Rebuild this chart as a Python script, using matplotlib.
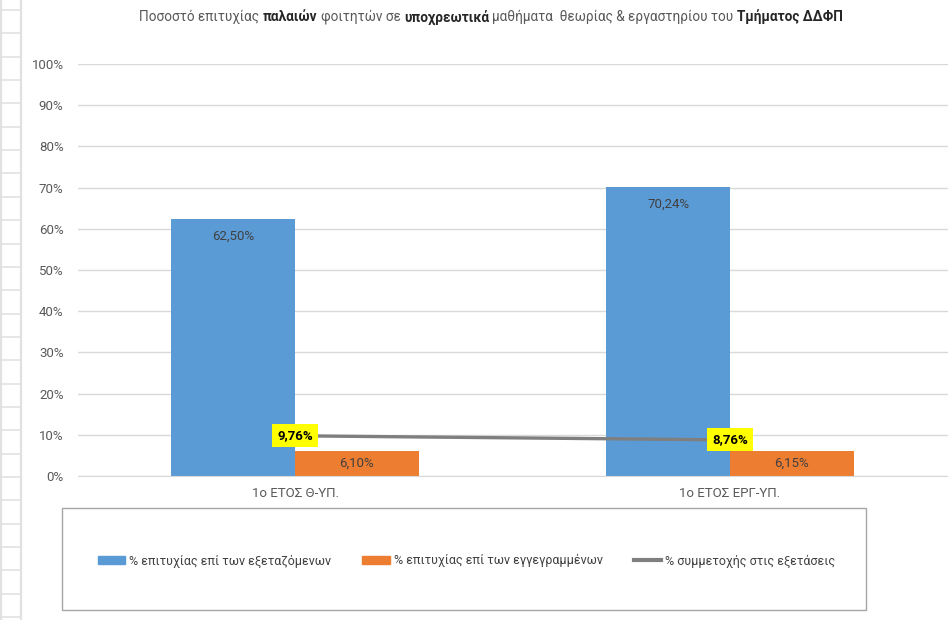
import numpy as np
import matplotlib
matplotlib.use('Agg')
import matplotlib.pyplot as plt
from matplotlib.lines import Line2D
from matplotlib.patches import Rectangle, Patch

plt.rcParams['font.family'] = ['Roboto', 'DejaVu Sans']

# δεδομένα
categories = ['1ο ΕΤΟΣ Θ-ΥΠ.', '1ο ΕΤΟΣ ΕΡΓ-ΥΠ.']
pass_examined = [62.50, 70.24]
pass_registered = [6.10, 6.15]
participation = [9.76, 8.76]
series_names = ['% επιτυχίας επί των εξεταζόμενων',
                '% επιτυχίας επί των εγγεγραμμένων',
                '% συμμετοχής στις εξετάσεις']
yticks = list(range(0, 101, 10))
title_parts = [('Ποσοστό επιτυχίας', False), ('παλαιών', True),
               ('φοιτητών σε', False), ('υποχρεωτικά', True),
               ('μαθήματα  θεωρίας & εργαστηρίου του', False),
               ('Τμήματος ΔΔΦΠ', True)]

BLUE = '#5B9BD5'
ORANGE = '#ED7D31'
GRAY = '#7F7F7F'
TXT = '#595959'
LAB = '#404040'


def fmt(v):
    return f'{v:.2f}%'.replace('.', ',')


W, H = 948, 620
fig = plt.figure(figsize=(W / 100, H / 100), dpi=100)

# γραμμές του φύλλου εργασίας στο φόντο
for k in range(27):
    yy = 1 - (10 + 23.35 * k) / H
    fig.add_artist(Line2D([0, 21 / W], [yy, yy], color='#E1E1E1', lw=1.2))
fig.add_artist(Line2D([20.5 / W] * 2, [0, 1], color='#E1E1E1', lw=1.6))
fig.add_artist(Line2D([0.8 / W] * 2, [0, 1], color='#E1E1E1', lw=1.6))

ax = fig.add_axes([77.5 / W, 1 - 476 / H, 870 / W, 412 / H])
x = np.arange(len(categories))
w = 0.284

ax.bar(x - w / 2, pass_examined, w, color=BLUE, zorder=2)
ax.bar(x + w / 2, pass_registered, w, color=ORANGE, zorder=2)
ax.plot(x, participation, color=GRAY, lw=2.4, zorder=3)

for xi, v in zip(x, pass_examined):
    ax.annotate(fmt(v), (xi - w / 2, v), xytext=(0, -12.5), textcoords='offset points',
                ha='center', va='center', fontsize=9.5, color=LAB, zorder=4)
for xi, v in zip(x, pass_registered):
    ax.text(xi + w / 2, v / 2, fmt(v), ha='center', va='center', fontsize=9.5,
            color=LAB, zorder=4)
for xi, v in zip(x, participation):
    ax.text(xi, v, fmt(v), ha='center', va='center', fontsize=9.5, fontweight='bold',
            color='black', zorder=5,
            bbox=dict(boxstyle='square,pad=0.38', fc='#FFFF00', ec='none'))

ax.set_xlim(-0.5, 1.5)
ax.set_ylim(0, 100)
ax.set_yticks(yticks, [f'{t}%' for t in yticks])
ax.set_xticks(x, categories)
ax.tick_params(axis='y', length=0, pad=10, labelsize=9.5, labelcolor=TXT)
ax.tick_params(axis='x', length=0, pad=8, labelsize=9.5, labelcolor=TXT)
ax.grid(axis='y', color='#D9D9D9', lw=1, zorder=0)
for s in ['top', 'right', 'left']:
    ax.spines[s].set_visible(False)
ax.spines['bottom'].set_color('#D9D9D9')

# υπόμνημα
handles = [Patch(color=BLUE), Patch(color=ORANGE), Line2D([], [], color=GRAY, lw=3)]
fig.legend(handles, series_names, loc='center', bbox_to_anchor=(466.5 / W, 1 - 561 / H),
           ncol=3, frameon=False, fontsize=9, handlelength=2.2, handleheight=0.6,
           columnspacing=2.5, handletextpad=0.3, labelcolor=LAB)
fig.add_artist(Rectangle((62 / W, 1 - 610 / H), 804 / W, 102 / H, fill=False,
                         ec='#A6A6A6', lw=1, transform=fig.transFigure))

# τίτλος με έντονα τμήματα
renderer = fig.canvas.get_renderer()
t1 = fig.text(0, 0, 'a a', fontsize=9.8)
t2 = fig.text(0, 0, 'aa', fontsize=9.8)
gap = t1.get_window_extent(renderer).width - t2.get_window_extent(renderer).width
t1.remove()
t2.remove()
objs = []
for txt, bold in title_parts:
    t = fig.text(0, 1 - 17 / H, txt, fontsize=9.8, va='center', ha='left',
                 color='#262626' if bold else TXT,
                 fontweight='bold' if bold else 'normal')
    objs.append(t)
widths = [t.get_window_extent(renderer).width for t in objs]
total = sum(widths) + gap * (len(objs) - 1)
pos = 491 - total / 2
for t, wd in zip(objs, widths):
    t.set_x(pos / W)
    pos += wd + gap

fig.savefig('out.png', dpi=100)
